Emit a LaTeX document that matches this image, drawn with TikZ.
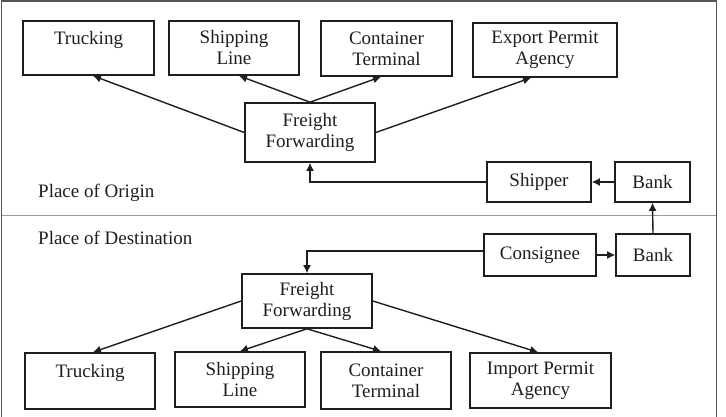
\documentclass[tikz,border=0pt]{standalone}
\usepackage{fontspec}
\setmainfont{Liberation Serif}
\usetikzlibrary{arrows.meta}
\definecolor{ink}{HTML}{1E1E1E}
\definecolor{sepblue}{HTML}{7F9BD8}
\begin{document}
\begin{tikzpicture}[x=1pt,y=-1pt,
  font=\fontsize{19}{21}\selectfont,
  box/.style={draw=ink, line width=1.6pt, rectangle, inner sep=0pt, align=center, text=ink},
  arr/.style={draw=ink, line width=1.4pt, -{Latex[length=8pt,width=8pt]}},
  lbl/.style={anchor=west, inner sep=0pt, text=ink}]
\useasboundingbox (0,0) rectangle (726,417);
% frame
\draw[draw=ink!75, line width=1.6pt] (1.5,417) -- (1.5,1) -- (716.5,1) -- (716.5,417);
\draw[draw=sepblue, line width=1.8pt] (2,215.5) -- (716,215.5);
% top boxes
\node[box, minimum width=131pt, minimum height=54pt] (T1) at (88.5,48) {Trucking\\\phantom{X}};
\node[box, minimum width=130pt, minimum height=54pt] (S1) at (234,48) {Shipping\\Line};
\node[box, minimum width=131pt, minimum height=55pt] (C1) at (386.5,48.5) {Container\\Terminal};
\node[box, minimum width=144pt, minimum height=54pt] (E1) at (545,50) {Export Permit\\Agency};
\node[box, minimum width=130pt, minimum height=59pt] (F1) at (310,132.5) {Freight\\Forwarding};
\node[box, minimum width=104pt, minimum height=40pt] (Sh) at (539,182) {Shipper};
\node[box, minimum width=75pt, minimum height=40pt] (B1) at (652.5,182) {Bank};
\node[lbl] (PO) at (38,193) {Place of Origin};
% bottom
\node[lbl] (PD) at (38,238) {Place of Destination};
\node[box, minimum width=112pt, minimum height=42pt] (Co) at (540,255) {Consignee};
\node[box, minimum width=74pt, minimum height=42pt] (B2) at (653,255) {Bank};
\node[box, minimum width=130pt, minimum height=54pt] (F2) at (307,301) {Freight\\Forwarding};
\node[box, minimum width=130pt, minimum height=56pt] (T2) at (90,381) {Trucking\\\phantom{X}};
\node[box, minimum width=130pt, minimum height=55pt] (S2) at (240,379.5) {Shipping\\Line};
\node[box, minimum width=130pt, minimum height=57pt] (C2) at (386,380.5) {Container\\Terminal};
\node[box, minimum width=141pt, minimum height=55pt] (I2) at (540.5,380.5) {Import Permit\\Agency};
% connectors top
\draw[arr] (F1.west) -- ([xshift=4.5pt]T1.south);
\draw[arr] (F1.north) -- ([xshift=5pt]S1.south);
\draw[arr] (F1.north) -- ([xshift=-5.5pt]C1.south);
\draw[arr] (F1.east) -- ([xshift=-14pt]E1.south);
\draw[arr] (B1.west) -- (Sh.east);
\draw[arr] (Sh.west) -| (F1.south);
% connectors bottom
\draw[arr] (Co.east) -- (B2.west);
\draw[arr] (B2.north) -- (B1.south);
\draw[arr] ([yshift=4pt]Co.west) -| (F2.north);
\draw[arr] (F2.west) -- ([xshift=3pt]T2.north);
\draw[arr] (F2.south) -- (S2.north);
\draw[arr] (F2.south) -- ([xshift=-5pt]C2.north);
\draw[arr] (F2.east) -- ([xshift=-2.5pt]I2.north);
\end{tikzpicture}
\end{document}
